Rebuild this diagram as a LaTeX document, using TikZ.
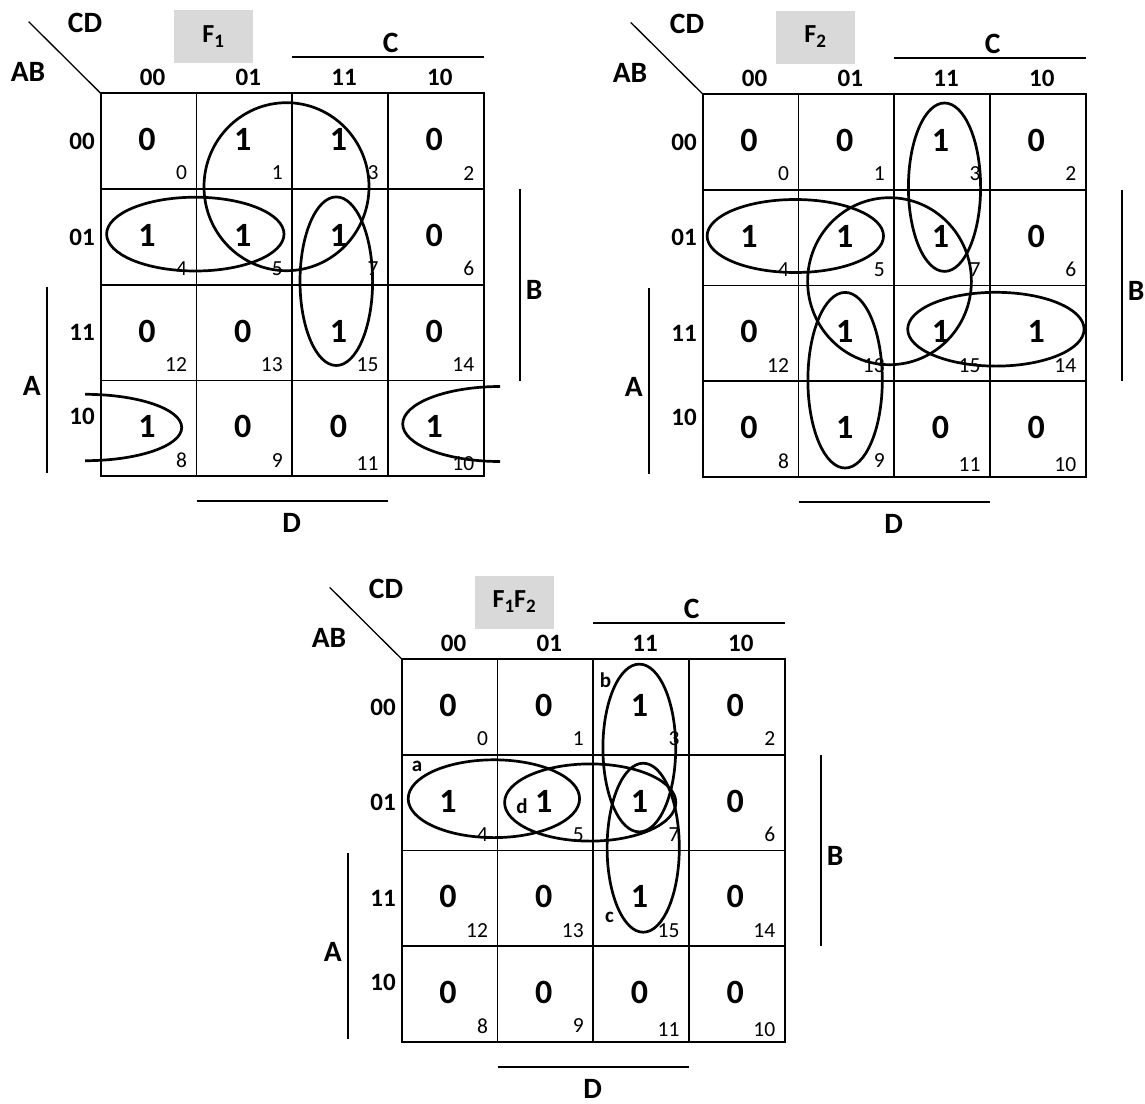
\documentclass[tikz,border=0pt]{standalone}
\usepackage{fontspec}
\setmainfont{Carlito}
\usetikzlibrary{calc}
\definecolor{titlegray}{HTML}{D9D9D9}
\tikzset{
  gridline/.style={line width=1.8pt},
  looprng/.style={line width=2.7pt},
  barline/.style={line width=1.8pt},
  diagline/.style={line width=1.3pt},
  bigval/.style={font=\fontsize{34}{34}\selectfont\bfseries, inner sep=0pt},
  hdr/.style={font=\fontsize{25}{25}\selectfont\bfseries, inner sep=0pt},
  varlbl/.style={font=\fontsize{29.5}{29.5}\selectfont\bfseries, inner sep=0pt},
  idxlbl/.style={font=\fontsize{21.5}{21.5}\selectfont, inner sep=0pt, anchor=east},
  ttlbox/.style={fill=titlegray, font=\fontsize{26}{26}\selectfont\bfseries, inner sep=0pt, minimum width=79pt, minimum height=53pt},
  taglbl/.style={font=\fontsize{21}{21}\selectfont\bfseries, inner sep=0pt},
}
\newcommand\kmsub[1]{\raisebox{-5pt}{\fontsize{19}{19}\selectfont #1}}
% #1 origin, #2 prefix, #3 title, #4 values (row order)
\newcommand\KMap[4]{%
\begin{scope}[shift={(#1)}]
  \coordinate (#2-o) at (0,0);
  \coordinate (#2-diag) at (-72,-71.6);
  \draw[diagline] (#2-diag) -- (#2-o);
  \node[varlbl] (#2-CD) at (-15.7,-70) {CD};
  \node[varlbl] (#2-AB) at (-72.7,-21.3) {AB};
  \node[ttlbox] (#2-title) at (112.5,-57) {#3};
  \node[varlbl] (#2-C) at (290,-50) {C};
  \draw[barline] (191.5,-36) coordinate (#2-c1) -- (383,-36) coordinate (#2-c2);
  \node[varlbl] (#2-B) at (433.5,197) {B};
  \draw[barline] (419,95.8) coordinate (#2-b1) -- (419,287.3) coordinate (#2-b2);
  \node[varlbl] (#2-A) at (-69,293) {A};
  \draw[barline] (-54,194) coordinate (#2-a1) -- (-54,380) coordinate (#2-a2);
  \node[varlbl] (#2-D) at (191,429.5) {D};
  \draw[barline] (96,407.6) coordinate (#2-d1) -- (287.6,407.6) coordinate (#2-d2);
  \draw[gridline] (0,0) rectangle (383,383);
  \foreach \k in {1,2,3} {
    \draw[gridline] (\k*95.75,0) -- (\k*95.75,383);
    \draw[gridline] (0,\k*95.75) -- (383,\k*95.75);
  }
  \foreach \h [count=\k from 0] in {00,01,11,10} {
    \node[hdr] (#2-col\k) at (\k*95.75+51.9,-15.6) {\h};
    \pgfmathsetmacro\kry{\k==3 ? 323.5 : \k*95.75+47.9}
    \node[hdr] (#2-row\k) at (-18.7,\kry) {\h};
  }
  \foreach \v [count=\i from 0] in {#4} {
    \pgfmathtruncatemacro\kr{int(\i/4)}
    \pgfmathtruncatemacro\kc{mod(\i,4)}
    \pgfmathtruncatemacro\kn{{0,1,3,2,4,5,7,6,12,13,15,14,8,9,11,10}[\i]}
    \pgfmathsetmacro\kiy{(\kr==3 && \kc>1) ? \kr*95.75+95.75-12.3 : \kr*95.75+95.75-16}
    \node[bigval] (#2-v\i) at (\kc*95.75+46.3,\kr*95.75+46.4) {\v};
    \node[idxlbl] (#2-n\i) at (\kc*95.75+86.5,\kiy) {\kn};
  }
\end{scope}}

\begin{document}
\begin{tikzpicture}[x=1pt,y=-1pt]
\useasboundingbox (0,0) rectangle (1145,1103);

% ---------- F1 ----------
\KMap{100.7,93.3}{m1}{F\kmsub{1}}{0,1,1,0,1,1,1,0,0,0,1,0,1,0,0,1}
\begin{scope}[shift={(100.7,93.3)}]
  \draw[looprng] (185.8,93.4) ellipse [x radius=82.5pt, y radius=84pt];
  \draw[looprng] (94.6,140.8) ellipse [x radius=88.7pt, y radius=36.9pt];
  \draw[looprng] (235.6,187.9) ellipse [x radius=36.3pt, y radius=84.3pt];
  \begin{scope}
    \clip (-15.7,290) rectangle (100,380);
    \draw[looprng] (-15.7,334.2) ellipse [x radius=96.7pt, y radius=33.2pt];
  \end{scope}
  \begin{scope}
    \clip (280,285) rectangle (399.3,380);
    \draw[looprng] (399.3,330.7) ellipse [x radius=97.3pt, y radius=37.5pt];
  \end{scope}
\end{scope}

% ---------- F2 ----------
\KMap{702.7,94}{m2}{F\kmsub{2}}{0,0,1,0,1,1,1,0,0,1,1,1,0,1,0,0}
\begin{scope}[shift={(702.7,94)}]
  \draw[looprng] (241.8,93.2) ellipse [x radius=36.1pt, y radius=84.2pt];
  \draw[looprng] (92.6,142) ellipse [x radius=88.2pt, y radius=36.5pt];
  \draw[looprng] (186.8,187.2) ellipse [x radius=81.9pt, y radius=83.5pt];
  \draw[looprng] (142.4,286.2) ellipse [x radius=37.2pt, y radius=87.8pt];
  \draw[looprng] (293.2,235.2) ellipse [x radius=88.2pt, y radius=36.9pt];
\end{scope}

% ---------- F1F2 ----------
\KMap{401.7,659}{m3}{F\kmsub{1}F\kmsub{2}}{0,0,1,0,1,1,1,0,0,0,1,0,0,0,0,0}
\begin{scope}[shift={(401.7,659)}]
  \draw[looprng] (92.2,139.7) ellipse [x radius=85.7pt, y radius=38.9pt];
  \draw[looprng] (188.5,143.5) ellipse [x radius=85.6pt, y radius=38.6pt];
  \draw[looprng] (237.6,89) ellipse [x radius=36.4pt, y radius=83.9pt];
  \draw[looprng] (241.5,188.7) ellipse [x radius=36.1pt, y radius=84.5pt];
  \node[taglbl] (m3-tag-a) at (15.4,107.6) {a};
  \node[taglbl] (m3-tag-b) at (203.7,21.5) {b};
  \node[taglbl] (m3-tag-c) at (207.9,258.6) {c};
  \node[taglbl] (m3-tag-d) at (120.4,147.4) {d};
\end{scope}
\end{tikzpicture}
\end{document}
